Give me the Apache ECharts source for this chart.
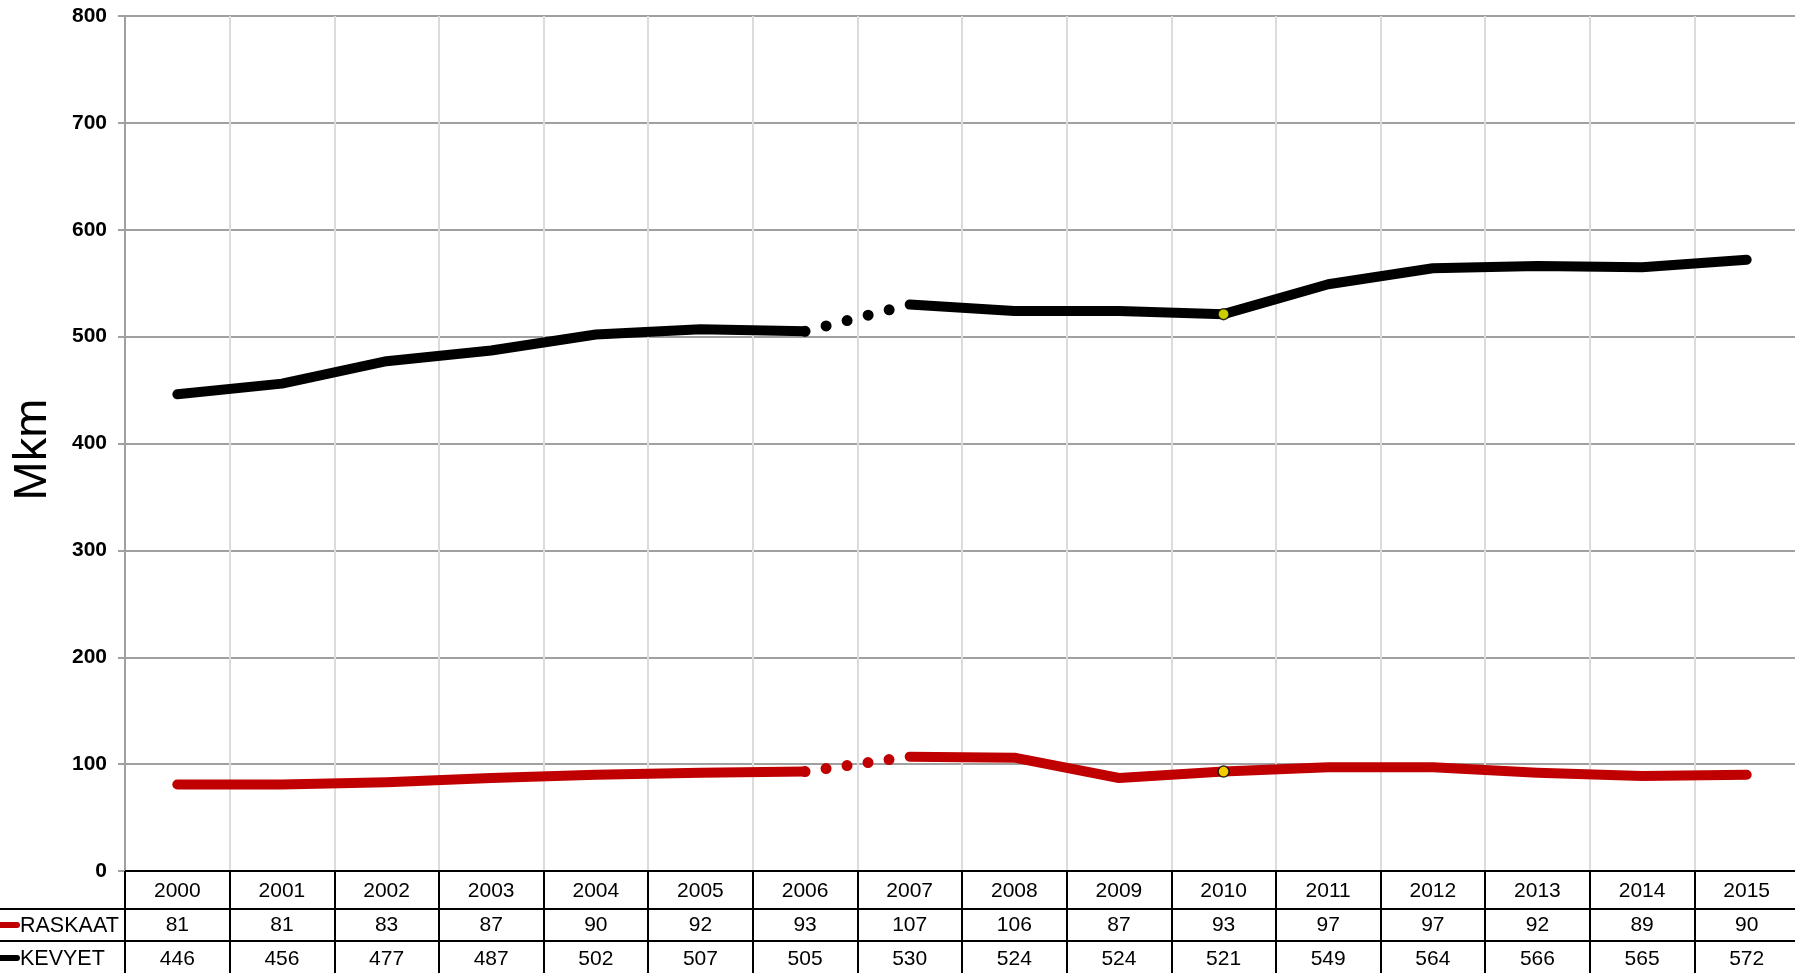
<!DOCTYPE html>
<html>
<head>
<meta charset="utf-8">
<script src="https://cdn.jsdelivr.net/npm/echarts@6/dist/echarts.min.js"></script>
<style>
html,body{margin:0;padding:0;background:#fff;}
#chart{width:1795px;height:973px;}
</style>
</head>
<body>
<div id="chart"></div>
<script>
const years = ['2000','2001','2002','2003','2004','2005','2006','2007','2008','2009','2010','2011','2012','2013','2014','2015'];
const raskaat = [81,81,83,87,90,92,93,107,106,87,93,97,97,92,89,90];
const kevyet = [446,456,477,487,502,507,505,530,524,524,521,549,564,566,565,572];
const breakAfter = 6;      // gap (dotted) between 2006 and 2007
const markerIndex = 10;    // yellow marker at 2010
const yTicks = {min:0, max:800, interval:100};
const seriesNames = ['RASKAAT','KEVYET'];
const seriesColors = ['#c00000','#000000'];

function part(arr, from, to){ return arr.map((v,i)=> (i>=from && i<=to) ? v : '-'); }
function only(arr, idx){ return arr.map((v,i)=> i===idx ? v : '-'); }

const FONT = 'Liberation Sans, Arial, sans-serif';
const chart = echarts.init(document.getElementById('chart'), null, {renderer:'canvas'});
const LW = 10;
const series = [];
[raskaat, kevyet].forEach((arr, k)=>{
  const c = seriesColors[k];
  series.push({type:'line', name:seriesNames[k], data:part(arr,0,breakAfter), symbol:'none', connectNulls:false,
    lineStyle:{color:c,width:LW,cap:'round',join:'round'}, z:3, animation:false});
  series.push({type:'line', name:seriesNames[k], data:part(arr,breakAfter+1,arr.length-1), symbol:'none', connectNulls:false,
    lineStyle:{color:c,width:LW,cap:'round',join:'round'}, z:3, animation:false});
  series.push({type:'line', name:seriesNames[k], data:part(arr,breakAfter,breakAfter+1), symbol:'none',
    lineStyle:{color:c,width:11,cap:'round',type:[0, k===0?21.2:21.7]}, z:2, animation:false});
  series.push({type:'scatter', data:only(arr,markerIndex), symbol:'circle', symbolSize:11,
    itemStyle:{color:'#ffff00',borderColor:'#000',borderWidth:1.5}, z:5, animation:false});
});

const option = {
  animation:false,
  backgroundColor:'#fff',
  grid:{left:125, top:16, width:1674, height:855, containLabel:false, outerBoundsMode:'none'},
  xAxis:{
    type:'category', data:years, boundaryGap:true,
    axisLine:{show:true, lineStyle:{color:'#000', width:2}},
    axisTick:{show:true, interval:0, alignWithLabel:false, length:104, lineStyle:{color:'#000', width:2}},
    splitLine:{show:true, interval:0, lineStyle:{color:'#dcdcdc', width:2}},
    axisLabel:{
      interval:0, margin:3, color:'#000', fontFamily:FONT, fontSize:21,
      formatter:(v,i)=> '{y|'+v+'}\n{y|'+raskaat[i]+'}\n{y|'+kevyet[i]+'}',
      rich:{y:{fontSize:21, lineHeight:34, color:'#000', fontFamily:FONT}}
    }
  },
  yAxis:{
    type:'value', min:yTicks.min, max:yTicks.max, interval:yTicks.interval,
    name:'Mkm', nameLocation:'middle', nameRotate:90, nameGap:68,
    nameTextStyle:{fontSize:47, color:'#000', fontFamily:FONT, padding:[0,12,0,0]},
    axisLine:{show:true, lineStyle:{color:'#a0a0a0', width:2}},
    axisTick:{show:true, length:7, lineStyle:{color:'#a0a0a0', width:2}},
    splitLine:{show:true, lineStyle:{color:'#a0a0a0', width:2}},
    axisLabel:{margin:18, color:'#000', fontWeight:'bold', fontSize:21, fontFamily:FONT}
  },
  series:series,
  graphic:[
    {type:'line', shape:{x1:0,y1:909,x2:1795,y2:909}, style:{stroke:'#000',lineWidth:2}, z:10},
    {type:'line', shape:{x1:0,y1:941,x2:1795,y2:941}, style:{stroke:'#000',lineWidth:2}, z:10},
    {type:'line', shape:{x1:1,y1:925,x2:17,y2:925}, style:{stroke:seriesColors[0],lineWidth:6,lineCap:'round'}, z:10},
    {type:'text', left:20, top:915, style:{text:seriesNames[0], fontSize:21.5, fill:'#000', fontFamily:FONT}, z:10},
    {type:'line', shape:{x1:1,y1:958,x2:17,y2:958}, style:{stroke:seriesColors[1],lineWidth:6,lineCap:'round'}, z:10},
    {type:'text', left:20, top:948, style:{text:seriesNames[1], fontSize:21.5, fill:'#000', fontFamily:FONT}, z:10}
  ]
};
chart.setOption(option);
</script>
</body>
</html>
